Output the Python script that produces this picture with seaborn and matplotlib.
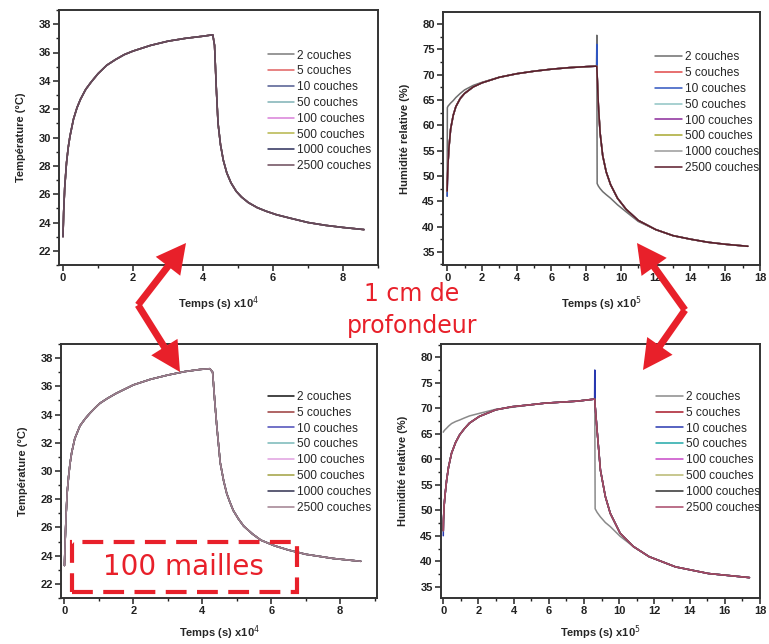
import numpy as np
import pandas as pd
import matplotlib
matplotlib.use("Agg")
import matplotlib.pyplot as plt
import seaborn as sns
from matplotlib.patches import FancyArrowPatch, Rectangle
from matplotlib.ticker import MultipleLocator

# ---------------- data ----------------
series = ["2 couches", "5 couches", "10 couches", "50 couches",
          "100 couches", "500 couches", "1000 couches", "2500 couches"]

# Temperature, 1 cm depth (time x1e4 s)
temp_time_top = [0, 0.02, 0.05, 0.1, 0.15, 0.2, 0.3, 0.4, 0.5, 0.65, 0.8, 1.0, 1.25, 1.5, 1.75,
                 2.0, 2.5, 3.0, 3.5, 4.0, 4.28, 4.33, 4.38, 4.43, 4.5, 4.58, 4.68, 4.8, 4.95,
                 5.1, 5.3, 5.55, 5.8, 6.1, 6.5, 7.0, 7.5, 8.0, 8.6]
temp_top = [23.0, 24.8, 26.5, 28.2, 29.3, 30.1, 31.3, 32.1, 32.7, 33.4, 33.9, 34.5, 35.1, 35.5,
            35.85, 36.1, 36.5, 36.8, 37.0, 37.15, 37.25, 36.5, 33.5, 31.0, 29.5, 28.4, 27.5,
            26.8, 26.2, 25.8, 25.4, 25.05, 24.8, 24.55, 24.3, 24.0, 23.8, 23.65, 23.5]

# Temperature, 100 mailles (time x1e4 s)
temp_time_bot = [0, 0.02, 0.05, 0.08, 0.12, 0.16, 0.21, 0.3, 0.45, 0.6, 0.74, 0.9, 1.03, 1.25,
                 1.5, 1.75, 2.0, 2.5, 3.0, 3.5, 3.95, 4.22, 4.3, 4.36, 4.42, 4.52, 4.62, 4.71,
                 4.8, 4.9, 5.05, 5.2, 5.45, 5.7, 6.1, 6.5, 7.0, 7.8, 8.6]
temp_bot = [23.3, 25.0, 27.0, 28.5, 29.6, 30.5, 31.3, 32.3, 33.2, 33.7, 34.1, 34.5, 34.8, 35.15,
            35.5, 35.8, 36.1, 36.5, 36.8, 37.05, 37.2, 37.25, 37.0, 35.0, 33.2, 30.6, 29.3,
            28.4, 27.8, 27.2, 26.6, 26.1, 25.55, 25.1, 24.7, 24.4, 24.1, 23.8, 23.6]

# Relative humidity, 1 cm depth (time x1e5 s)
rh_time_top = [0, 0.01, 0.05, 0.1, 0.2, 0.35, 0.5, 0.75, 1.0, 1.5, 2.0, 3.0, 4.0, 5.0, 6.0, 7.0,
               8.0, 8.6, 8.61, 8.63, 8.7, 8.8, 8.95, 9.15, 9.4, 9.8, 10.3, 11.0, 12.0, 13.0,
               14.0, 15.0, 16.0, 17.3]
rh_top_main = [47, 49, 52.5, 55.5, 59.3, 62, 63.7, 65.3, 66.3, 67.6, 68.4, 69.5, 70.2, 70.7, 71.1,
               71.4, 71.6, 71.7, 71.6, 70, 64, 58.5, 54, 50.8, 48.3, 45.6, 43.4, 41.2, 39.4,
               38.2, 37.5, 36.9, 36.5, 36.1]
rh_top_2c = [46, 63.5, 63.8, 64.0, 64.4, 64.9, 65.5, 66.3, 67.0, 67.9, 68.5, 69.5, 70.2, 70.7,
             71.1, 71.4, 71.6, 71.7, 77.8, 48.5, 48.0, 47.5, 46.9, 46.3, 45.6, 44.3, 42.9, 41.0,
             39.4, 38.2, 37.5, 36.9, 36.5, 36.1]
rh_top_10c = [46, 48, 52.5, 55.5, 59.3, 62, 63.7, 65.3, 66.3, 67.6, 68.4, 69.5, 70.2, 70.7, 71.1,
              71.4, 71.6, 71.7, 76.0, 70, 64, 58.5, 54, 50.8, 48.3, 45.6, 43.4, 41.2, 39.4,
              38.2, 37.5, 36.9, 36.5, 36.1]

# Relative humidity, 100 mailles (time x1e5 s)
rh_time_bot = [0, 0.01, 0.05, 0.1, 0.19, 0.3, 0.47, 0.7, 0.93, 1.2, 1.49, 2.05, 2.98, 3.9, 5.0,
               5.77, 6.7, 7.63, 8.6, 8.61, 8.63, 8.74, 8.93, 9.21, 9.49, 10.05, 10.8, 11.7, 13.2,
               15.07, 17.4]
rh_bot_main = [46, 48, 51, 53, 55.9, 58.5, 61.2, 63.3, 64.8, 66.0, 67.1, 68.4, 69.7, 70.3, 70.7,
               71.0, 71.2, 71.4, 71.8, 71.7, 70.5, 65.7, 57.9, 52.7, 49.4, 45.5, 42.9, 40.9,
               38.9, 37.6, 36.8]
rh_bot_2c = [65.3, 65.4, 65.6, 65.8, 66.1, 66.5, 67.0, 67.4, 67.7, 68.1, 68.5, 69.0, 69.8, 70.2,
             70.7, 71.0, 71.2, 71.4, 71.8, 71.7, 50.3, 49.6, 48.7, 47.6, 46.8, 44.9, 42.9, 40.9,
             38.9, 37.6, 36.8]
rh_bot_10c = [45, 48, 51, 53, 55.9, 58.5, 61.2, 63.3, 64.8, 66.0, 67.1, 68.4, 69.7, 70.3, 70.7,
              71.0, 71.2, 71.4, 71.8, 77.5, 70.5, 65.7, 57.9, 52.7, 49.4, 45.5, 42.9, 40.9,
              38.9, 37.6, 36.8]

pal_tl = ["#7a7a7a", "#e06060", "#505a90", "#7fb2b5", "#d880d8", "#b5b54a", "#2b2d5a", "#6b4a5a"]
pal_tr = ["#6e6e6e", "#e04848", "#2f55c0", "#90c4c4", "#8a2a9a", "#a8a830", "#9a9a9a", "#5a1a2a"]
pal_bl = ["#111111", "#9a3a3a", "#4a4ab8", "#78b8b8", "#e0a0e0", "#a0a040", "#303050", "#a08090"]
pal_br = ["#8a8a8a", "#a81828", "#2838b0", "#20a8a8", "#c848c8", "#b8b870", "#303030", "#a84868"]


def build(time, values_by_series):
    rows = []
    for s in series:
        for t, v in zip(time, values_by_series[s]):
            rows.append((s, t, v))
    return pd.DataFrame(rows, columns=["serie", "t", "v"])


df_tl = build(temp_time_top, {s: temp_top for s in series})
df_bl = build(temp_time_bot, {s: temp_bot for s in series})
d_tr = {s: rh_top_main for s in series}
d_tr["2 couches"] = rh_top_2c
d_tr["10 couches"] = rh_top_10c
df_tr = build(rh_time_top, d_tr)
d_br = {s: rh_bot_main for s in series}
d_br["2 couches"] = rh_bot_2c
d_br["10 couches"] = rh_bot_10c
df_br = build(rh_time_bot, d_br)

# ---------------- figure ----------------
sns.set_theme(style="white")
plt.rcParams['font.family'] = ['Liberation Sans', 'DejaVu Sans']

W, H = 769, 644
fig = plt.figure(figsize=(W / 100, H / 100), dpi=100)


def px_axes(x0, y0, x1, y1):
    return fig.add_axes([x0 / W, 1 - y1 / H, (x1 - x0) / W, (y1 - y0) / H])


def style(ax, df, pal, xlim, ylim, xmaj, ymaj, ylabel, xlabel, leg_xy, xpad):
    sns.lineplot(data=df, x="t", y="v", hue="serie", hue_order=series, palette=pal,
                 estimator=None, sort=False, linewidth=1.1, ax=ax, legend=True)
    ax.set_xlim(*xlim)
    ax.set_ylim(*ylim)
    ax.xaxis.set_major_locator(MultipleLocator(xmaj))
    ax.xaxis.set_minor_locator(MultipleLocator(xmaj / 2))
    ax.yaxis.set_major_locator(MultipleLocator(ymaj))
    ax.yaxis.set_minor_locator(MultipleLocator(ymaj / 2))
    ax.tick_params(which="major", direction="out", length=4, width=1.1, colors="#222",
                   labelsize=8, bottom=True, left=True, top=False, right=False, pad=2)
    ax.tick_params(which="minor", direction="out", length=2.5, width=1.0, colors="#222",
                   bottom=True, left=True, top=False, right=False)
    for lab in ax.get_xticklabels() + ax.get_yticklabels():
        lab.set_fontweight("bold")
    for sp in ax.spines.values():
        sp.set_color("#333333")
        sp.set_linewidth(1.4)
        sp.set_visible(True)
    ax.set_ylabel(ylabel, fontsize=8, fontweight="bold", labelpad=9)
    ax.set_xlabel(xlabel, fontsize=8, fontweight="bold", labelpad=xpad)
    handles, labels = ax.get_legend_handles_labels()
    hmap = dict(zip(labels, handles))
    ax.legend([hmap[s] for s in series], series, frameon=False, loc="upper left",
              bbox_to_anchor=leg_xy, fontsize=8.6, handlelength=2.2, handletextpad=0.25,
              labelspacing=0.32, borderpad=0, borderaxespad=0)
    ax.grid(False)


ax_tl = px_axes(59, 10, 378, 265)
style(ax_tl, df_tl, pal_tl, (-0.114, 9.0), (21, 39), 2, 2, "Température (°C)",
      "Temps (s) x10$^4$", (0.655, 0.845), 8)

ax_tr = px_axes(443, 12, 760, 265)
style(ax_tr, df_tr, pal_tr, (-0.24, 18.0), (32.4, 82.4), 2, 5, "Humidité relative (%)",
      "Temps (s) x10$^5$", (0.67, 0.845), 8)

ax_bl = px_axes(61, 344, 377, 598)
style(ax_bl, df_bl, pal_bl, (-0.1, 9.07), (21, 39), 2, 2, "Température (°C)",
      "Temps (s) x10$^4$", (0.655, 0.815), 5)

ax_br = px_axes(441, 344, 760, 598)
style(ax_br, df_br, pal_br, (-0.13, 18.0), (32.8, 82.6), 2, 5, "Humidité relative (%)",
      "Temps (s) x10$^5$", (0.675, 0.815), 5)

# ---------------- red annotations ----------------
RED = "#e8202a"


def fpt(x, y):
    return (x / W, 1 - y / H)


def arrow(a, b):
    p = FancyArrowPatch(fpt(*a), fpt(*b), transform=fig.transFigure,
                        arrowstyle="-|>,head_width=0.5,head_length=0.95",
                        mutation_scale=14, color=RED, linewidth=5.0,
                        shrinkA=0, shrinkB=0, capstyle="butt", joinstyle="miter")
    fig.add_artist(p)


arrow((138, 305), (186, 243))
arrow((138, 305), (180, 372))
arrow((685, 310), (637, 243))
arrow((685, 310), (643, 370))

fig.text(412 / W, 1 - 294 / H, "1 cm de", color=RED, fontsize=17, ha="center", va="center",
         family=["DejaVu Sans"])
fig.text(412 / W, 1 - 326 / H, "profondeur", color=RED, fontsize=17, ha="center", va="center",
         family=["DejaVu Sans"])

rect = Rectangle(fpt(72, 592), (297 - 72) / W, (592 - 542) / H, transform=fig.transFigure,
                 fill=False, edgecolor=RED, linewidth=3, linestyle=(0, (5, 2.5)))
fig.add_artist(rect)
fig.text(183 / W, 1 - 567 / H, "100 mailles", color=RED, fontsize=20, ha="center", va="center",
         family=["DejaVu Sans"])

fig.savefig("out.png", dpi=100)
